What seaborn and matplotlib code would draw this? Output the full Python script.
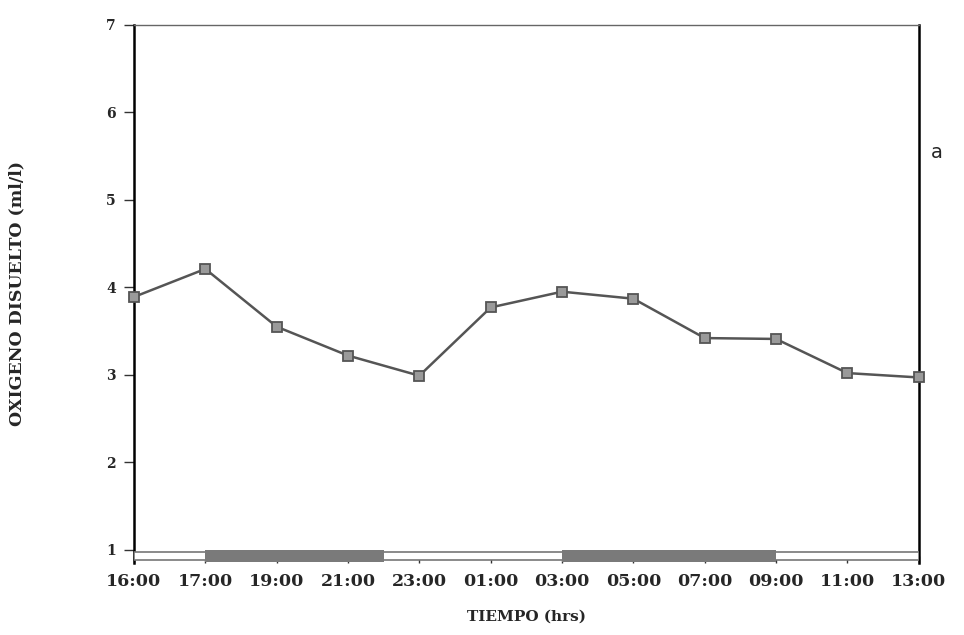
import matplotlib
matplotlib.use("Agg")
import matplotlib.pyplot as plt
import matplotlib.patches as mpatches
import numpy as np
import pandas as pd
import seaborn as sns

# Dissolved oxygen over a 24-hour sampling cycle
times = ["16:00", "17:00", "19:00", "21:00", "23:00", "01:00",
         "03:00", "05:00", "07:00", "09:00", "11:00", "13:00"]
oxygen = [3.89, 4.21, 3.55, 3.22, 2.99, 3.77, 3.95, 3.87, 3.42, 3.41, 3.02, 2.97]

# dark-period segments of the light bar (in category positions)
dark_start = [1.0, 6.0]
dark_end = [3.5, 9.0]

df = pd.DataFrame({"pos": np.arange(len(times)), "hora": times, "od": oxygen})

sns.set_theme(style="white")
plt.rcParams["font.family"] = ["DejaVu Serif"]

fig = plt.figure(figsize=(9.64, 6.35), dpi=100)
ax = fig.add_axes([0.139, 0.1134, 0.814, 0.8476])

sns.lineplot(data=df, x="pos", y="od", ax=ax, color="#555555", linewidth=1.8,
             marker="s", markersize=7, markerfacecolor="#9a9a9a",
             markeredgecolor="#555555", markeredgewidth=1.3, clip_on=False, zorder=5)

ax.set_xlim(0, len(times) - 1)
ax.set_ylim(0.85, 7)
ax.set_yticks([1, 2, 3, 4, 5, 6, 7])
ax.set_yticklabels(["1", "2", "3", "4", "5", "6", "7"], fontsize=10, fontweight="bold")
ax.set_xticks(df["pos"])
ax.set_xticklabels(times, fontsize=12.5, fontweight="bold")

# light / dark bar along the base
ax.add_patch(mpatches.Rectangle((0, 0.88), len(times) - 1, 0.1, facecolor="white",
                                edgecolor="#777777", linewidth=1.2, zorder=3))
for s, e in zip(dark_start, dark_end):
    ax.add_patch(mpatches.Rectangle((s, 0.86), e - s, 0.14, facecolor="#7a7a7a",
                                    edgecolor="none", zorder=4))

ax.tick_params(axis="y", direction="out", length=7, width=1, color="#333333", pad=6, left=True)
ax.tick_params(axis="x", direction="in", length=5, width=1, color="#333333", pad=7, bottom=True)

for side in ["left", "right"]:
    ax.spines[side].set_color("black")
    ax.spines[side].set_linewidth(1.8)
ax.spines["top"].set_color("#666666")
ax.spines["top"].set_linewidth(1.0)
ax.spines["bottom"].set_visible(False)

ax.set_xlabel("TIEMPO (hrs)", fontsize=11, fontweight="bold", labelpad=14)
ax.set_ylabel("OXIGENO DISUELTO (ml/l)", fontsize=12.5, fontweight="bold", labelpad=58)

fig.text(0.972, 0.76, "a", fontsize=14, family="DejaVu Sans", ha="center", va="center")

fig.savefig("out.png", dpi=100, facecolor="white")
